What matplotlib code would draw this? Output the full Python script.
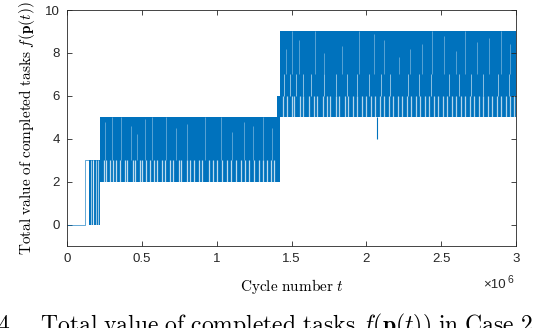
import numpy as np
import matplotlib.pyplot as plt

plt.rcParams['mathtext.fontset'] = 'cm'
plt.rcParams['font.family'] = ['Liberation Sans', 'DejaVu Sans']

# cycle values in units of 1e6
# phases: (start, end, low, high) of the dense band
phase_start = [0.148, 0.222, 0.222, 1.400, 1.420]
phase_end = [0.222, 1.420, 1.400, 1.420, 3.000]
phase_low = [0, 3, 2, 2, 5]
phase_high = [3, 5, 3, 6, 9]

# initial step before the oscillation starts
step_t = [0.0, 0.120, 0.120, 0.148]
step_v = [0, 0, 3, 3]

# light gaps in the early 0-3 band
early_gaps = [0.158, 0.171, 0.176, 0.194, 0.208]

# gaps in the 2-3 part of the middle band (signal stays at 3)
mid_low_gaps = [0.245, 0.262, 0.29, 0.305, 0.33, 0.352, 0.385, 0.40, 0.44,
                0.455, 0.49, 0.50, 0.53, 0.555, 0.58, 0.60, 0.635, 0.655,
                0.69, 0.71, 0.745, 0.765, 0.80, 0.82, 0.85, 0.88, 0.905,
                0.95, 0.975, 1.00, 1.035, 1.07, 1.095, 1.13, 1.16, 1.19,
                1.215, 1.25, 1.28, 1.31, 1.335, 1.36, 1.385]
# light streaks inside the 3-5 part
mid_hi_t = [0.255, 0.30, 0.36, 0.43, 0.47, 0.52, 0.57, 0.66, 0.73, 0.80,
            0.92, 1.03, 1.10, 1.18, 1.24, 1.31, 1.37]
mid_hi_top = [4.8, 5.0, 5.0, 4.6, 4.2, 4.9, 5.0, 5.0, 4.5, 4.7, 5.0, 5.0,
              4.3, 4.8, 4.6, 5.0, 4.5]

# gaps in the 5-6 part of the upper band
up_low_gaps = [1.445, 1.47, 1.50, 1.52, 1.555, 1.58, 1.62, 1.65, 1.67, 1.71,
               1.74, 1.76, 1.80, 1.82, 1.855, 1.88, 1.91, 1.94, 1.97, 2.00,
               2.03, 2.06, 2.09, 2.12, 2.15, 2.18, 2.21, 2.24, 2.27, 2.30,
               2.33, 2.36, 2.39, 2.42, 2.45, 2.48, 2.51, 2.54, 2.57, 2.60,
               2.63, 2.66, 2.69, 2.72, 2.75, 2.78, 2.81, 2.84, 2.87, 2.90,
               2.93, 2.96, 2.985]
# gaps in the 6-7 part
up_mid_gaps = [1.45, 1.49, 1.53, 1.58, 1.63, 1.72, 1.80, 1.87, 1.94, 2.02,
               2.10, 2.16, 2.28, 2.35, 2.43, 2.55, 2.62, 2.70, 2.78, 2.88,
               2.95]
# light streaks reaching into 7-9
up_hi_t = [1.46, 1.50, 1.55, 1.66, 1.72, 1.84, 1.95, 2.05, 2.12, 2.22,
           2.29, 2.37, 2.44, 2.52, 2.60, 2.66, 2.74, 2.82, 2.90, 2.96]
up_hi_top = [8.2, 9.0, 8.6, 9.0, 8.0, 8.3, 9.0, 8.9, 8.6, 7.8, 8.2, 8.4, 9.0,
             8.8, 8.1, 9.0, 8.5, 8.7, 9.0, 8.4]

# single dip below the band
dip_t = 2.07
dip_v = [5, 4]

scale = 1e6
blue = '#0072BD'

fig = plt.figure(figsize=(5.36, 3.28), dpi=100)
ax = fig.add_axes([0.125, 0.25, 0.8377, 0.7195])

ax.plot(np.array(step_t) * scale, step_v, color=blue, lw=0.6, alpha=0.7)

for s, e, lo, hi in zip(phase_start, phase_end, phase_low, phase_high):
    ax.fill_between([s * scale, e * scale], lo, hi, color=blue, lw=0)

ax.vlines(np.array(early_gaps) * scale, 0, 3, color='white', lw=0.8, alpha=0.6)
ax.vlines(np.array(mid_low_gaps) * scale, 2, 3, color='white', lw=0.9, alpha=0.75)
ax.vlines(np.array(mid_hi_t) * scale, 3, mid_hi_top, color='white', lw=0.6, alpha=0.4)
ax.vlines(np.array(up_low_gaps) * scale, 5, 6, color='white', lw=0.9, alpha=0.7)
ax.vlines(np.array(up_mid_gaps) * scale, 6, 7, color='white', lw=0.7, alpha=0.55)
ax.vlines(np.array(up_hi_t) * scale, 7, up_hi_top, color='white', lw=0.6, alpha=0.4)
ax.vlines(dip_t * scale, dip_v[1], dip_v[0], color=blue, lw=0.8)

ax.set_xlim(0, 3e6)
ax.set_ylim(-1, 10)
xt = [0, 0.5, 1, 1.5, 2, 2.5, 3]
ax.set_xticks(np.array(xt) * scale)
ax.set_xticklabels(['0', '0.5', '1', '1.5', '2', '2.5', '3'])
ax.set_yticks([0, 2, 4, 6, 8, 10])

for sp in ax.spines.values():
    sp.set_color('#262626')
    sp.set_linewidth(0.6)
ax.tick_params(direction='in', length=3.5, width=0.6, colors='#262626',
               labelsize=9.5, top=True, right=True, pad=5)

ax.set_xlabel(r'$\mathrm{Cycle\ number}\ t$', fontsize=11, labelpad=9)
ax.set_ylabel(r'$\mathrm{Total\ value\ of\ completed\ tasks}\ f(\mathbf{p}(t))$',
              fontsize=11, labelpad=6)

fig.text(483 / 536, 1 - 288 / 328, '×10', fontsize=9.5, color='#262626')
fig.text(508 / 536, 1 - 283 / 328, '6', fontsize=7.5, color='#262626')

# caption of the source figure, cut by the bottom edge as in the reference
fig.text(-0.006, 1 - 312 / 328,
         r'$\mathrm{4.\quad Total\ value\ of\ completed\ tasks}\ f(\mathbf{p}(t))\ \mathrm{in\ Case\ 2}$',
         fontsize=17, va='top')

fig.savefig('out.png', dpi=100)
